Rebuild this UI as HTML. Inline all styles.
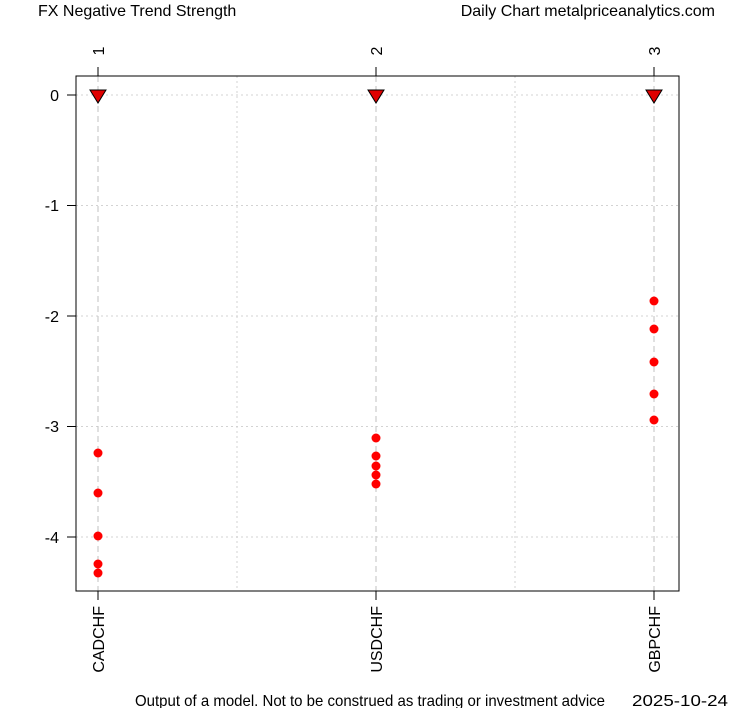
<!DOCTYPE html>
<html><head><meta charset="utf-8"><style>body{margin:0;background:#fff}</style></head><body>
<svg width="753" height="708" xmlns="http://www.w3.org/2000/svg" font-family="Liberation Sans, Arial, sans-serif" font-size="16">
<rect width="753" height="708" fill="#fff"/>
<g stroke="#d3d3d3" stroke-dasharray="2,3" stroke-width="1">
<line x1="76" x2="679" y1="95" y2="95"/><line x1="76" x2="679" y1="205.5" y2="205.5"/><line x1="76" x2="679" y1="316" y2="316"/><line x1="76" x2="679" y1="426.5" y2="426.5"/><line x1="76" x2="679" y1="537" y2="537"/>
<line x1="237" x2="237" y1="76" y2="591"/><line x1="515" x2="515" y1="76" y2="591"/>
</g>
<g stroke="#c0c0c0" stroke-dasharray="6,4" stroke-width="1">
<line x1="98" x2="98" y1="76" y2="591"/><line x1="376" x2="376" y1="76" y2="591"/><line x1="654" x2="654" y1="76" y2="591"/>
</g>
<rect x="76" y="76" width="603" height="515" fill="none" stroke="#000"/>
<g stroke="#000">
<line x1="67" x2="76" y1="95" y2="95"/><line x1="67" x2="76" y1="205.5" y2="205.5"/><line x1="67" x2="76" y1="316" y2="316"/><line x1="67" x2="76" y1="426.5" y2="426.5"/><line x1="67" x2="76" y1="537" y2="537"/>
<line x1="98" x2="98" y1="67" y2="76"/><line x1="376" x2="376" y1="67" y2="76"/><line x1="654" x2="654" y1="67" y2="76"/>
<line x1="98" x2="98" y1="591" y2="600"/><line x1="376" x2="376" y1="591" y2="600"/><line x1="654" x2="654" y1="591" y2="600"/>
</g>
<g text-anchor="end">
<text x="59" y="101">0</text><text x="59" y="211">-1</text><text x="59" y="322">-2</text><text x="59" y="432">-3</text><text x="59" y="543">-4</text>
</g>
<text transform="translate(104,51) rotate(-90)" text-anchor="middle">1</text>
<text transform="translate(382,51) rotate(-90)" text-anchor="middle">2</text>
<text transform="translate(660,51) rotate(-90)" text-anchor="middle">3</text>
<text transform="translate(104,606) rotate(-90)" text-anchor="end">CADCHF</text>
<text transform="translate(382,606) rotate(-90)" text-anchor="end">USDCHF</text>
<text transform="translate(660,606) rotate(-90)" text-anchor="end">GBPCHF</text>
<g fill="#e00000" stroke="#000" stroke-width="1">
<polygon points="90,90 106,90 98,103"/><polygon points="368,90 384,90 376,103"/><polygon points="646,90 662,90 654,103"/>
</g>
<g fill="#ff0000">
<circle cx="98" cy="453" r="4.5"/><circle cx="98" cy="493" r="4.5"/><circle cx="98" cy="536" r="4.5"/><circle cx="98" cy="564" r="4.5"/><circle cx="98" cy="573" r="4.5"/>
<circle cx="376" cy="438" r="4.5"/><circle cx="376" cy="456" r="4.5"/><circle cx="376" cy="466" r="4.5"/><circle cx="376" cy="475" r="4.5"/><circle cx="376" cy="484" r="4.5"/>
<circle cx="654" cy="301" r="4.5"/><circle cx="654" cy="329" r="4.5"/><circle cx="654" cy="362" r="4.5"/><circle cx="654" cy="394" r="4.5"/><circle cx="654" cy="420" r="4.5"/>
</g>
<text x="38" y="16">FX Negative Trend Strength</text>
<text x="715" y="16" text-anchor="end">Daily Chart metalpriceanalytics.com</text>
<text x="135" y="706" textLength="470" lengthAdjust="spacingAndGlyphs">Output of a model. Not to be construed as trading or investment advice</text>
<text x="632" y="706" textLength="96" lengthAdjust="spacingAndGlyphs">2025-10-24</text>
</svg>
</body></html>
